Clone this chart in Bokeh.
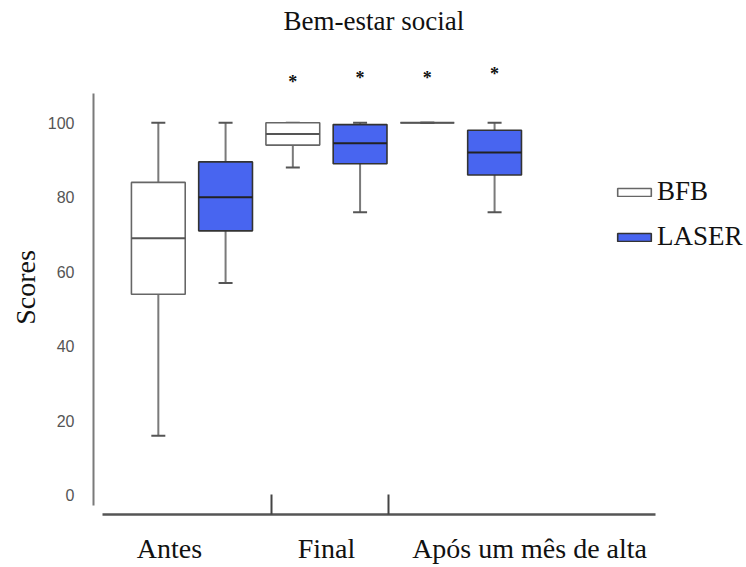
from bokeh.plotting import figure
from bokeh.models import (Range1d, LinearAxis, FixedTicker, Legend, LegendItem,
                          ColumnDataSource, CustomJSTickFormatter, Title)
from bokeh.embed import file_html
from bokeh.resources import INLINE

# --- data -------------------------------------------------------------------
title = "Bem-estar social"
periods = ["Antes", "Final", "Após um mês de alta"]
groups = ["BFB", "LASER"]

bfb_low = [16, 88, 100]
bfb_q1 = [54, 94, 100]
bfb_med = [69, 97, 100]
bfb_q3 = [84, 100, 100]
bfb_high = [100, 100, 100]

laser_low = [57, 76, 76]
laser_q1 = [71, 89, 86]
laser_med = [80, 94.5, 92]
laser_q3 = [89.5, 99.5, 98]
laser_high = [100, 100, 100]

# height of the significance asterisk above each box (None = no mark)
bfb_sig = [None, 111, 112]
laser_sig = [None, 112, 113]

y_ticks = [0, 20, 40, 60, 80, 100]

# --- styling ------------------------------------------------------------------
SERIF = "Liberation Serif"
SANS = "Liberation Sans"
BLUE = "#4865F0"

OFFSET = 0.25       # box centre offset from period centre
HALF_W = 0.2        # half box width
CAP = 0.052         # half whisker cap width

p = figure(width=746, height=567, output_backend="svg", toolbar_location=None,
           title=None,
           x_range=Range1d(-0.732, 4.123), y_range=Range1d(-5.1, 116.7),
           x_axis_type=None, y_axis_type=None,
           min_border_left=93, min_border_right=0,
           min_border_top=60, min_border_bottom=53)
p.outline_line_color = None
p.background_fill_color = "white"
p.border_fill_color = "white"

# blank band between the title and the plot frame, then the title itself
p.add_layout(Title(text=" ", text_font_size="10px", standoff=10), "above")
p.add_layout(Title(text=title, text_font=SERIF, text_font_size="27px",
                   text_font_style="normal", text_color="#111111",
                   align="left", offset=190, standoff=4), "above")

# y axis
yax = LinearAxis(ticker=FixedTicker(ticks=y_ticks), bounds=(-2.7, 107.86))
yax.axis_line_color = "#7a7a7a"
yax.axis_line_width = 2
yax.major_tick_line_color = None
yax.minor_tick_line_color = None
yax.major_tick_out = 0
yax.major_label_standoff = 19
yax.major_label_text_font = SANS
yax.major_label_text_font_size = "16px"
yax.major_label_text_color = "#555555"
yax.axis_label = "Scores"
yax.axis_label_text_font = SERIF
yax.axis_label_text_font_size = "28px"
yax.axis_label_text_font_style = "normal"
yax.axis_label_text_color = "#111111"
yax.axis_label_standoff = 4
p.add_layout(yax, "left")

# x axis: period names, with two inner divider ticks
label_x = [-0.167, 1.0, 2.51]
xax = LinearAxis(ticker=FixedTicker(ticks=label_x, minor_ticks=[0.591, 1.461]),
                 bounds=(-0.666, 3.446),
                 formatter=CustomJSTickFormatter(args=dict(names=periods),
                                                 code="return names[index]"))
xax.axis_line_color = "#555555"
xax.axis_line_width = 2.5
xax.major_tick_line_color = None
xax.minor_tick_line_color = "#444444"
xax.minor_tick_line_width = 2
xax.minor_tick_in = 20
xax.minor_tick_out = 0
xax.major_label_standoff = 12
xax.major_label_text_font = SERIF
xax.major_label_text_font_size = "28px"
xax.major_label_text_color = "#111111"
p.add_layout(xax, "below")


def box_source(shift, low, q1, med, q3, high):
    x = [i + shift for i in range(len(periods))]
    return ColumnDataSource(dict(
        x=x, left=[v - HALF_W for v in x], right=[v + HALF_W for v in x],
        cl=[v - CAP for v in x], cr=[v + CAP for v in x],
        low=low, q1=q1, med=med, q3=q3, high=high))


def draw_boxes(src, fill, edge, median_color):
    p.segment(x0="x", y0="low", x1="x", y1="q1", source=src,
              line_color="#7a7a7a", line_width=2)
    p.segment(x0="x", y0="q3", x1="x", y1="high", source=src,
              line_color="#7a7a7a", line_width=2)
    p.segment(x0="cl", y0="low", x1="cr", y1="low", source=src,
              line_color="#555555", line_width=2)
    p.segment(x0="cl", y0="high", x1="cr", y1="high", source=src,
              line_color="#555555", line_width=2)
    r = p.quad(left="left", right="right", bottom="q1", top="q3", source=src,
               fill_color=fill, line_color=edge, line_width=1.6)
    p.segment(x0="left", y0="med", x1="right", y1="med", source=src,
              line_color=median_color, line_width=2)
    return r


bfb_src = box_source(-OFFSET, bfb_low, bfb_q1, bfb_med, bfb_q3, bfb_high)
laser_src = box_source(OFFSET, laser_low, laser_q1, laser_med, laser_q3, laser_high)

r_bfb = draw_boxes(bfb_src, "white", "#666666", "#555555")
r_laser = draw_boxes(laser_src, BLUE, "#333333", "#222222")

# significance asterisks
sx, sy = [], []
for shift, sig in ((-OFFSET, bfb_sig), (OFFSET, laser_sig)):
    for i, h in enumerate(sig):
        if h is not None:
            sx.append(i + shift)
            sy.append(h)
p.text(x=sx, y=sy, text=["*"] * len(sx), text_align="center",
       text_baseline="middle", text_font_size="18px", text_font_style="bold",
       text_color="#111111", text_font={"value": SERIF})

legend = Legend(items=[LegendItem(label=groups[0], renderers=[r_bfb]),
                       LegendItem(label=groups[1], renderers=[r_laser])],
                location=(520, 262), glyph_width=42, glyph_height=10,
                label_standoff=2, spacing=14, padding=0, margin=0,
                border_line_color=None, background_fill_alpha=0,
                label_text_font=SERIF, label_text_font_size="27px",
                label_text_color="#111111")
p.add_layout(legend)

open("out.html", "w").write(file_html(p, INLINE))
